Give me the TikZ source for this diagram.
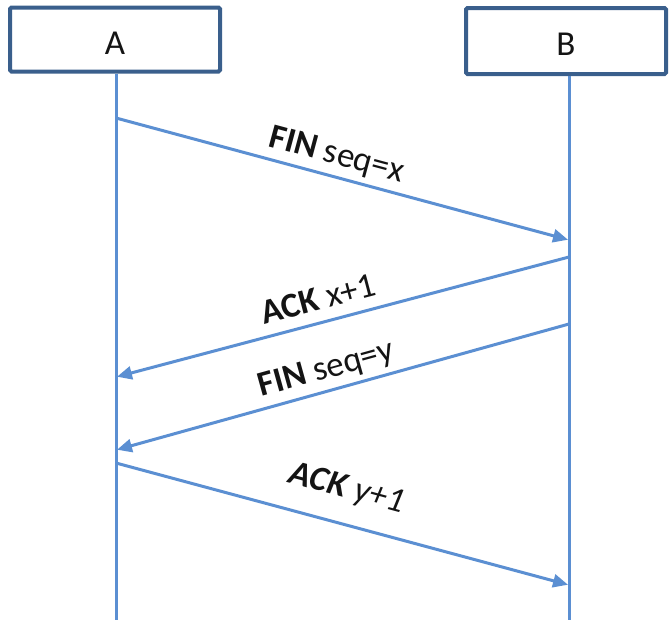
\documentclass[tikz,border=0pt]{standalone}
\usepackage{fontspec}
\setmainfont{Carlito}
\usetikzlibrary{arrows.meta}
\definecolor{boxline}{HTML}{3A5F8C}
\definecolor{msgline}{HTML}{5B8FD2}
\definecolor{txt}{HTML}{141414}
\tikzset{
  actor/.style={draw=boxline, line width=4pt, fill=white, rounded corners=1.5pt,
    font=\fontsize{35}{40}\selectfont, text=txt, inner sep=0pt, text height=29pt, text depth=0pt},
  lifeline/.style={draw=msgline, line width=3pt},
  msg/.style={draw=msgline, line width=3pt, -{Triangle[length=15pt,width=13pt]}, shorten >=1pt},
  lbl/.style={sloped, inner sep=0pt, text depth=0pt, above=12pt,
    font=\fontsize{35}{40}\selectfont, text=txt}
}
\begin{document}
\begin{tikzpicture}[x=1pt,y=-1pt]
\useasboundingbox (0,0) rectangle (670,622);
% actor boxes
\node[actor, minimum width=210pt, minimum height=64pt] (A) at (115,39.5) {A};
\node[actor, minimum width=200pt, minimum height=66pt] (B) at (566,41) {B};
% lifeline ends
\coordinate (Aend) at (116,620);
\coordinate (Bend) at (569,620);
\draw[lifeline] (A.south -| Aend) -- (Aend);
\draw[lifeline] (B.south -| Bend) -- (Bend);
% message points
\coordinate (a1) at (116,118);
\coordinate (b1) at (569,240);
\coordinate (b2) at (569,257);
\coordinate (a2) at (116,377);
\coordinate (b3) at (569,324);
\coordinate (a3) at (116,450);
\coordinate (a4) at (116,463);
\coordinate (b4) at (569,585);
% messages
\draw[msg] (a1) -- (b1);
\draw[msg] (b2) -- (a2);
\draw[msg] (b3) -- (a3);
\draw[msg] (a4) -- (b4);
% labels
\path (a1) -- (b1) node[lbl, pos=0.475] {\textbf{FIN} seq=x};
\path (a2) -- (b2) node[lbl, pos=0.46] {\textbf{ACK} x+1};
\path (a3) -- (b3) node[lbl, pos=0.477] {\textbf{FIN} seq=y};
\path (a4) -- (b4) node[lbl, pos=0.49, above=14pt] {\textbf{\textit{ACK}} \textit{y+1}};
\end{tikzpicture}
\end{document}
